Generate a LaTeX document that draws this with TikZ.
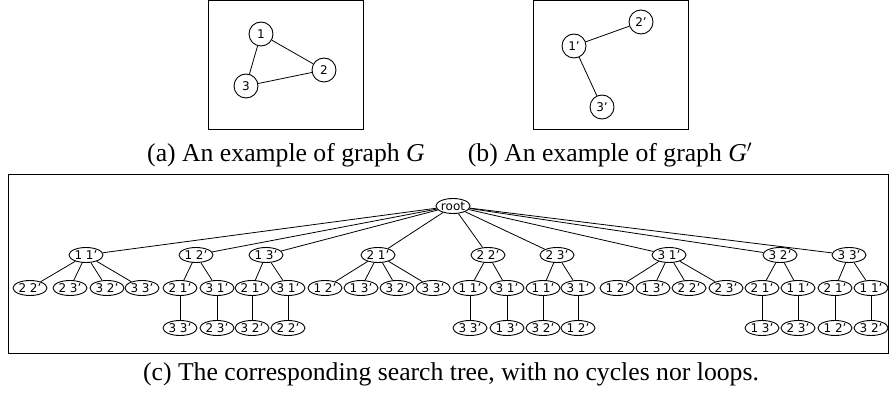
\documentclass[tikz,border=0pt]{standalone}
\usepackage{fontspec}
\setmainfont{Liberation Serif}
\newfontfamily\dejavu{DejaVu Sans}
\usetikzlibrary{shapes.geometric}
\begin{document}
\begin{tikzpicture}[x=1pt,y=-1pt,
  tn/.style={ellipse,draw,line width=0.9pt,inner sep=0pt,minimum width=34pt,minimum height=15pt,font=\dejavu\fontsize{12}{12}\selectfont},
  gn/.style={circle,draw,line width=0.9pt,inner sep=0pt,minimum size=24pt,font=\dejavu\fontsize{12}{12}\selectfont},
  captxt/.style={anchor=base,inner sep=0pt,font=\fontsize{25.7}{26}\selectfont},
  frame/.style={draw,line width=0.9pt},
  edge/.style={line width=0.8pt}]
\useasboundingbox (0,0) rectangle (893,398);
% frames
\draw[frame] (208,0.5) rectangle (363,129);
\draw[frame] (533,0.5) rectangle (688,129);
\draw[frame] (8,174) rectangle (888,353);
% graph G
\node[gn] (g1) at (261,34) {1};
\node[gn] (g2) at (324,70) {2};
\node[gn] (g3) at (246,86) {3};
\draw[edge] (g1) -- (g2);
\draw[edge] (g1) -- (g3);
\draw[edge] (g3) -- (g2);
% graph G'
\node[gn] (h1) at (574,46) {1’};
\node[gn] (h2) at (641,22) {2’};
\node[gn] (h3) at (602,107) {3’};
\draw[edge] (h1) -- (h2);
\draw[edge] (h1) -- (h3);
% captions
\node[captxt] (ca) at (286,162) {(a) An example of graph \textit{G}};
\node[captxt] (cb) at (610,162) {(b) An example of graph \textit{G}$'$};
\node[captxt] (cc) at (451,380) {(c) The corresponding search tree, with no cycles nor loops.};
% tree
\node[tn] (root) at (453,206) {root};
\foreach \n/\x/\t in {L11/86/{1 1’},L12/196/{1 2’},L13/266/{1 3’},L21/378/{2 1’},L22/488/{2 2’},L23/557/{2 3’},L31/669/{3 1’},L32/780/{3 2’},L33/849/{3 3’}}{
  \node[tn] (\n) at (\x,255) {\t};
  \draw[edge] (root) -- (\n);
}
\foreach \n/\x/\t/\p in {a1/30/{2 2’}/L11,a2/70/{2 3’}/L11,a3/107/{3 2’}/L11,a4/142/{3 3’}/L11,
  b1/180/{2 1’}/L12,b2/217/{3 1’}/L12,c1/252/{2 1’}/L13,c2/288/{3 1’}/L13,
  d1/325/{1 2’}/L21,d2/361/{1 3’}/L21,d3/397/{3 2’}/L21,d4/433/{3 3’}/L21,
  e1/470/{1 1’}/L22,e2/507/{3 1’}/L22,f1/543/{1 1’}/L23,f2/578/{3 1’}/L23,
  g1/617/{1 2’}/L31,g2/653/{1 3’}/L31,g3/689/{2 2’}/L31,g4/726/{2 3’}/L31,
  h1/762/{2 1’}/L32,h2/798/{1 1’}/L32,i1/835/{2 1’}/L33,i2/871/{1 1’}/L33}{
  \node[tn] (\n) at (\x,288) {\t};
  \draw[edge] (\p) -- (\n);
}
\foreach \n/\x/\t/\p in {m1/180/{3 3’}/b1,m2/217/{2 3’}/b2,m3/252/{3 2’}/c1,m4/288/{2 2’}/c2,
  m5/470/{3 3’}/e1,m6/507/{1 3’}/e2,m7/543/{3 2’}/f1,m8/578/{1 2’}/f2,
  m9/762/{1 3’}/h1,m10/798/{2 3’}/h2,m11/835/{1 2’}/i1,m12/871/{3 2’}/i2}{
  \node[tn] (\n) at (\x,328) {\t};
  \draw[edge] (\p) -- (\n);
}
\end{tikzpicture}
\end{document}
